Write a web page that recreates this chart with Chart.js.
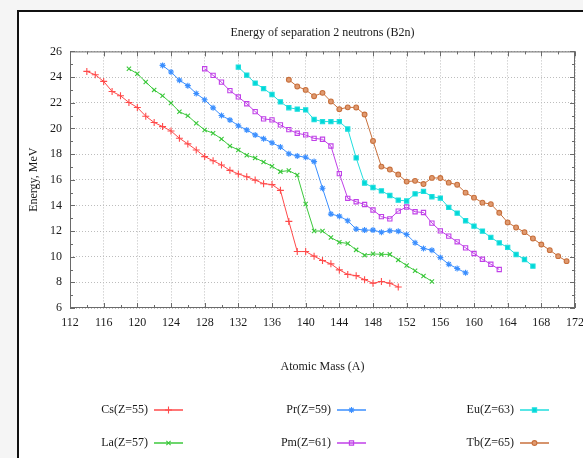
<!DOCTYPE html>
<html lang="en">
<head>
<meta charset="UTF-8">
<title>Energy of separation 2 neutrons (B2n)</title>
<script src="https://cdn.jsdelivr.net/npm/chart.js"></script>
<style>
    html, body { margin: 0; padding: 0; }
    body {
        width: 583px;
        height: 458px;
        overflow: hidden;
        position: relative;
        background: #f5f5f5;
    }
    .frame {
        position: absolute;
        left: 17px;
        top: 10px;
        width: 620px;
        height: 520px;
        border: 2px solid #111;
        background: #fff;
    }
    .chart-box {
        position: absolute;
        left: 0;
        top: 0;
        width: 583px;
        height: 458px;
    }
</style>
</head>
<body>
<div class="frame"></div>
<div class="chart-box"><canvas id="b2nChart" width="583" height="458"></canvas></div>
<script>
// mass numbers A on the x axis
const massNumbers = [112, 113, 114, 115, 116, 117, 118, 119, 120, 121, 122, 123, 124, 125, 126, 127, 128, 129, 130, 131,
    132, 133, 134, 135, 136, 137, 138, 139, 140, 141, 142, 143, 144, 145, 146, 147, 148, 149, 150, 151,
    152, 153, 154, 155, 156, 157, 158, 159, 160, 161, 162, 163, 164, 165, 166, 167, 168, 169, 170, 171, 172];

// B2n in MeV, one slot per mass number (null = no isotope)
const csB2n = [null, null, 24.44, 24.18, 23.66, 22.88, 22.54, 22.02, 21.63, 20.95, 20.46, 20.14, 19.80, 19.23, 18.79, 18.32,
    17.80, 17.48, 17.15, 16.73, 16.45, 16.23, 15.97, 15.69, 15.62, 15.17, 12.75, 10.40, 10.40, 10.04, 9.70, 9.44,
    8.97, 8.62, 8.52, 8.21, 7.93, 8.07, 7.93, 7.64];
const laB2n = [null, null, null, null, null, null, null, 24.65, 24.26, 23.61, 23.00, 22.54, 21.97, 21.30, 20.98, 20.40,
    19.88, 19.62, 19.18, 18.63, 18.32, 17.90, 17.70, 17.38, 17.05, 16.63, 16.71, 16.37, 14.10, 12.00, 12.00, 11.50,
    11.12, 11.03, 10.53, 10.12, 10.22, 10.18, 10.18, 9.75, 9.31, 8.91, 8.49, 8.07];
const prB2n = [null, null, null, null, null, null, null, null, null, null, null, 24.91, 24.39, 23.76, 23.33, 22.72,
    22.23, 21.60, 21.00, 20.66, 20.21, 19.88, 19.49, 19.20, 18.88, 18.55, 18.02, 17.85, 17.75, 17.41, 15.33, 13.32,
    13.16, 12.80, 12.15, 12.07, 12.07, 11.91, 12.02, 11.99, 11.73, 11.08, 10.64, 10.51, 9.93, 9.41, 9.08, 8.74];
const pmB2n = [null, null, null, null, null, null, null, null, null, null, null, null, null, null, null, null,
    24.65, 24.13, 23.60, 22.94, 22.45, 21.92, 21.31, 20.74, 20.66, 20.27, 19.90, 19.62, 19.49, 19.22, 19.15, 18.63,
    16.47, 14.55, 14.28, 14.07, 13.64, 13.12, 12.95, 13.55, 13.87, 13.50, 13.44, 12.62, 12.01, 11.60, 11.16, 10.69,
    10.25, 9.80, 9.41, 9.00];
const euB2n = [null, null, null, null, null, null, null, null, null, null, null, null, null, null, null, null,
    null, null, null, null, 24.78, 24.15, 23.53, 23.10, 22.64, 22.06, 21.61, 21.50, 21.44, 20.69, 20.53, 20.53,
    20.53, 19.95, 17.70, 15.74, 15.39, 15.13, 14.77, 14.41, 14.34, 14.90, 15.09, 14.67, 14.57, 13.84, 13.40, 12.80,
    12.38, 11.99, 11.50, 11.08, 10.72, 10.17, 9.78, 9.26];
const tbB2n = [null, null, null, null, null, null, null, null, null, null, null, null, null, null, null, null,
    null, null, null, null, null, null, null, null, null, null, 23.79, 23.27, 23.00, 22.51, 22.77, 22.10,
    21.50, 21.64, 21.63, 21.08, 19.02, 17.02, 16.79, 16.40, 15.85, 15.91, 15.66, 16.14, 16.13, 15.77, 15.61, 14.99,
    14.60, 14.21, 14.10, 13.42, 12.67, 12.28, 11.91, 11.42, 10.95, 10.51, 10.04, 9.65];

const seriesNames = ["Cs(Z=55)", "La(Z=57)", "Pr(Z=59)", "Pm(Z=61)", "Eu(Z=63)", "Tb(Z=65)"];

const serifFont = '"Liberation Serif", "DejaVu Serif", serif';
const textColor = "#1a1a1a";

function makeSeries(label, data, color, style, radius, fill) {
    return {
        label: label,
        data: data,
        borderColor: color,
        backgroundColor: fill,
        borderWidth: 1,
        pointStyle: style,
        pointRadius: radius,
        pointHoverRadius: radius,
        pointBorderColor: color,
        pointBackgroundColor: fill,
        pointBorderWidth: 1.1,
        tension: 0,
        fill: false
    };
}

// frame around the plot with inward ticks, like the original plot
const plotFrame = {
    id: "plotFrame",
    beforeDatasetsDraw(chart) {
        const { ctx, chartArea: a, scales } = chart;
        const xs = scales.x, ys = scales.y;
        ctx.save();
        ctx.strokeStyle = "#6a6a6a";
        ctx.lineWidth = 1;
        ctx.strokeRect(a.left + 0.5, a.top + 0.5, a.right - a.left - 1, a.bottom - a.top - 1);
        ctx.beginPath();
        for (let v = xs.min; v <= xs.max; v += 2) {
            const p = Math.round(xs.getPixelForValue(v)) + 0.5;
            const len = (v - xs.min) % 4 === 0 ? 5 : 3;
            ctx.moveTo(p, a.bottom); ctx.lineTo(p, a.bottom - len);
            ctx.moveTo(p, a.top); ctx.lineTo(p, a.top + len);
        }
        for (let v = ys.min; v <= ys.max; v += 1) {
            const p = Math.round(ys.getPixelForValue(v)) + 0.5;
            const len = (v - ys.min) % 2 === 0 ? 5 : 3;
            ctx.moveTo(a.left, p); ctx.lineTo(a.left + len, p);
            ctx.moveTo(a.right, p); ctx.lineTo(a.right - len, p);
        }
        ctx.stroke();
        ctx.restore();
    }
};

// three column legend under the axis title, text left of the sample
const legendColX = [148, 331, 514];
const legendRowY = [410, 443];
const bottomLegend = {
    id: "bottomLegend",
    afterDraw(chart) {
        const ctx = chart.ctx;
        ctx.save();
        ctx.font = "12px " + serifFont;
        ctx.textAlign = "right";
        ctx.textBaseline = "middle";
        chart.data.datasets.forEach((ds, i) => {
            const x = legendColX[Math.floor(i / 2)];
            const y = legendRowY[i % 2];
            ctx.fillStyle = textColor;
            ctx.fillText(ds.label, x, y);
            ctx.strokeStyle = ds.borderColor;
            ctx.lineWidth = 1.5;
            ctx.beginPath();
            ctx.moveTo(x + 6, y);
            ctx.lineTo(x + 35, y);
            ctx.stroke();
            ctx.lineWidth = 1.1;
            ctx.fillStyle = ds.pointBackgroundColor;
            Chart.helpers.drawPoint(ctx, { pointStyle: ds.pointStyle, radius: ds.pointRadius, borderWidth: 1.1, rotation: 0 }, x + 20.5, y);
        });
        ctx.restore();
    }
};

const ctx = document.getElementById("b2nChart").getContext("2d");
new Chart(ctx, {
    type: "line",
    data: {
        labels: massNumbers,
        datasets: [
            makeSeries(seriesNames[0], csB2n, "#ff4a4a", "cross", 3.5, "#ff4a4a"),
            makeSeries(seriesNames[1], laB2n, "#3cc83c", "crossRot", 3, "#3cc83c"),
            makeSeries(seriesNames[2], prB2n, "#3b8fff", "star", 3, "#9cc8ff"),
            makeSeries(seriesNames[3], pmB2n, "#c040e8", "rect", 3, "rgba(255,255,255,0)"),
            makeSeries(seriesNames[4], euB2n, "#20dede", "rect", 3, "#00d8d8"),
            makeSeries(seriesNames[5], tbB2n, "#c8703c", "circle", 2.4, "#e09a70")
        ]
    },
    options: {
        responsive: false,
        animation: false,
        maintainAspectRatio: false,
        layout: { padding: { left: 0, top: 0, right: 8, bottom: 0 } },
        plugins: {
            legend: { display: false },
            tooltip: { enabled: false },
            title: {
                display: true,
                fullSize: false,
                text: "Energy of separation 2 neutrons (B2n)",
                color: textColor,
                font: { family: serifFont, size: 12, weight: "normal" },
                padding: { top: 26, bottom: 11 }
            }
        },
        scales: {
            x: {
                type: "linear",
                min: 112,
                max: 172,
                afterFit(scale) { scale.height = 150; scale.paddingLeft = 0; scale.paddingRight = 0; },
                ticks: {
                    stepSize: 4,
                    autoSkip: false,
                    padding: 8,
                    maxRotation: 0,
                    color: textColor,
                    font: { family: serifFont, size: 12 }
                },
                grid: { color: "#bdbdbd", drawTicks: false },
                border: { display: false, dash: [1, 2] },
                title: {
                    display: true,
                    text: "Atomic Mass (A)",
                    color: textColor,
                    font: { family: serifFont, size: 12 },
                    padding: { top: 0, bottom: 84 }
                }
            },
            y: {
                min: 6,
                max: 26,
                afterFit(scale) { scale.width = 70; scale.paddingTop = 0; scale.paddingBottom = 0; },
                ticks: {
                    stepSize: 2,
                    padding: 8,
                    color: textColor,
                    font: { family: serifFont, size: 12 }
                },
                grid: { color: "#bdbdbd", drawTicks: false },
                border: { display: false, dash: [1, 2] },
                title: {
                    display: true,
                    text: "Energy, MeV",
                    color: textColor,
                    font: { family: serifFont, size: 12 },
                    padding: { top: 27, bottom: 0 }
                }
            }
        }
    },
    plugins: [plotFrame, bottomLegend]
});
</script>
</body>
</html>
